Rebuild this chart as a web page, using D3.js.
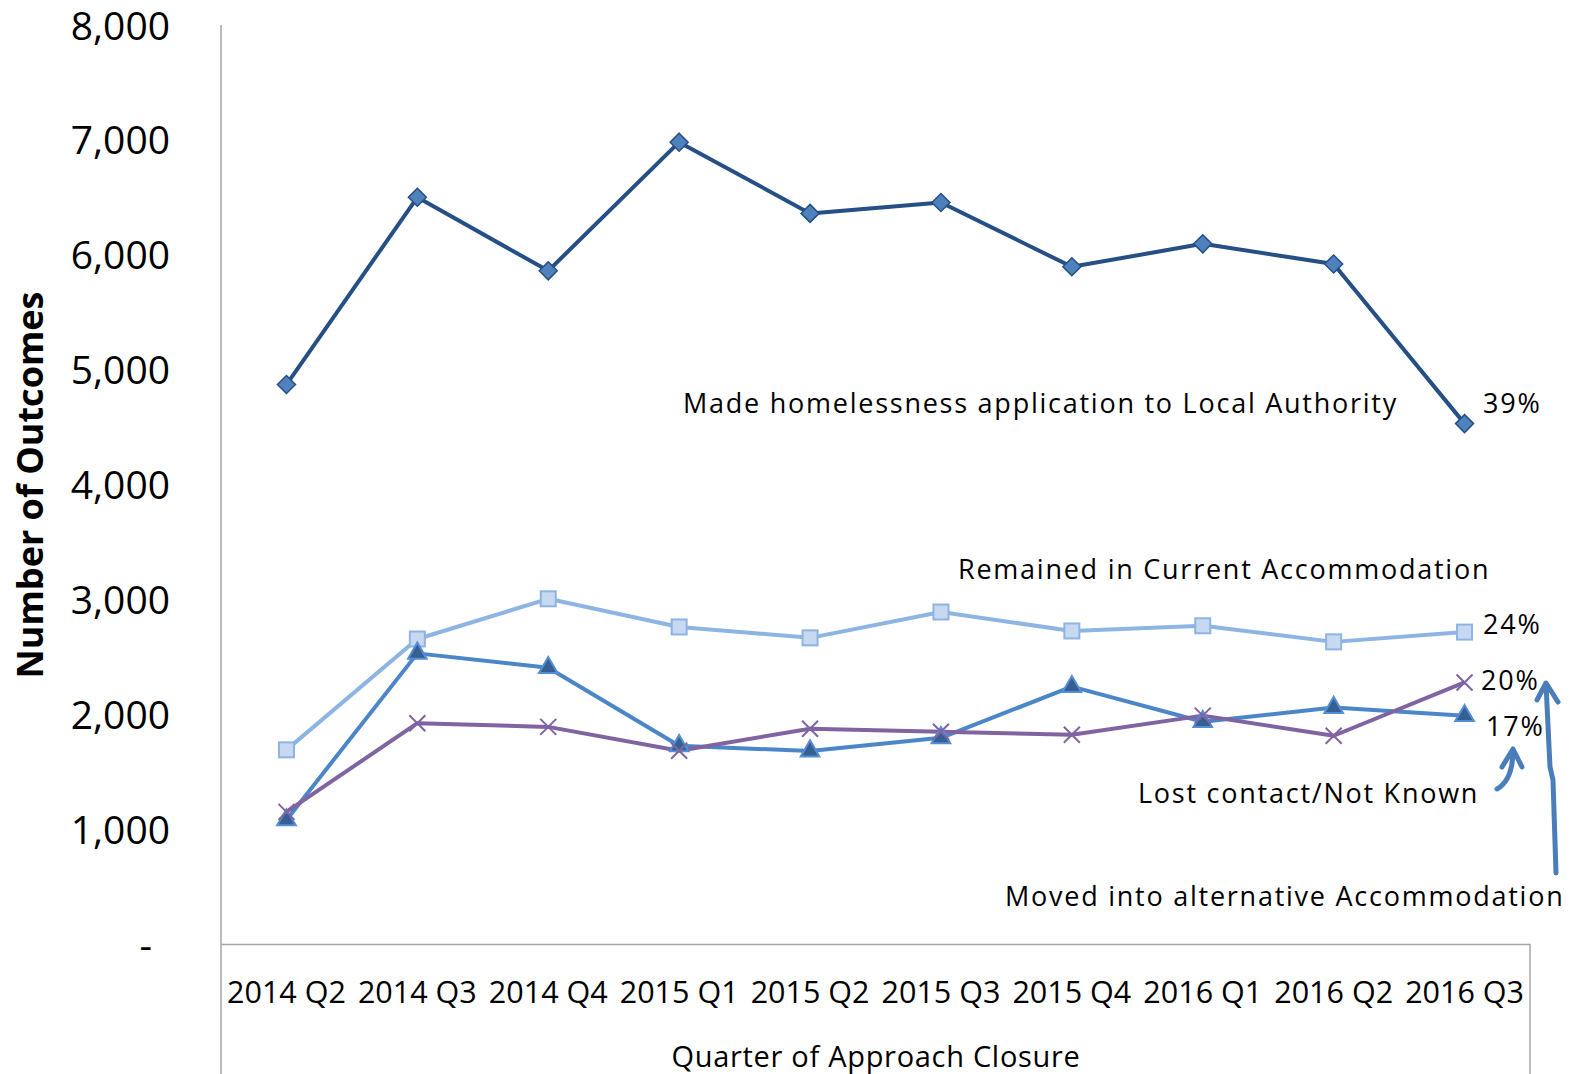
<!DOCTYPE html>
<html>
<head>
<meta charset="utf-8">
<script src="https://cdn.jsdelivr.net/npm/d3@7"></script>
<style>
  body { margin: 0; background: #fff; }
  text { font-family: "Open Sans", sans-serif; fill: #000; }
</style>
</head>
<body>
<div id="chart"></div>
<script>
// Data
const quarters = ["2014 Q2", "2014 Q3", "2014 Q4", "2015 Q1", "2015 Q2",
                  "2015 Q3", "2015 Q4", "2016 Q1", "2016 Q2", "2016 Q3"];
const homelessApp = [4870, 6500, 5860, 6980, 6360, 6455, 5895, 6095, 5920, 4530];
const remained    = [1690, 2655, 3005, 2760, 2665, 2890, 2725, 2770, 2630, 2715];
const lostContact = [1080, 2530, 2405, 1725, 1680, 1795, 2240, 1935, 2058, 1988];
const movedAlt    = [1150, 1922, 1890, 1682, 1874, 1848, 1822, 1988, 1813, 2277];
const yTicks = [0, 1000, 2000, 3000, 4000, 5000, 6000, 7000, 8000];

const W = 1579, H = 1074;
const svg = d3.select("#chart").append("svg")
  .attr("width", W)
  .attr("height", H);

// Scales
const x = d3.scaleBand().domain(quarters).range([221, 1530]);
const y = d3.scaleLinear().domain([0, 8000]).range([944, 25]);
const cx = (d, i) => x(quarters[i]) + x.bandwidth() / 2;

// Frame lines
const frame = "#a6a6a6";
svg.append("line").attr("x1", 221).attr("x2", 221).attr("y1", 25).attr("y2", H)
  .attr("stroke", frame).attr("stroke-width", 1.5);
svg.append("line").attr("x1", 1530).attr("x2", 1530).attr("y1", 944).attr("y2", H)
  .attr("stroke", frame).attr("stroke-width", 1.5);

// Y axis
const yAxis = svg.append("g")
  .attr("transform", "translate(221,0)")
  .call(d3.axisLeft(y).tickValues(yTicks).tickSize(0).tickPadding(51)
    .tickFormat(d => d === 0 ? "-" : d3.format(",")(d)));
yAxis.select(".domain").remove();
yAxis.selectAll("text")
  .style("font-family", "Open Sans, sans-serif")
  .style("font-size", "39px")
  .attr("dy", "0.36em")
  .attr("dx", d => d === 0 ? -18 : 0);

// X axis
const xAxis = svg.append("g")
  .attr("transform", "translate(0,944)")
  .call(d3.axisBottom(x).tickSize(0));
xAxis.select(".domain").attr("stroke", frame).attr("stroke-width", 1.5);
xAxis.selectAll("text")
  .style("font-family", "Open Sans, sans-serif")
  .style("font-size", "30.5px")
  .attr("y", 59)
  .attr("dy", 0);

// Axis titles
svg.append("text")
  .attr("transform", "translate(43,485) rotate(-90)")
  .attr("text-anchor", "middle")
  .style("font-size", "36px")
  .style("font-weight", "bold")
  .text("Number of Outcomes");

svg.append("text")
  .attr("x", 876)
  .attr("y", 1067)
  .attr("text-anchor", "middle")
  .style("font-size", "29px")
  .style("letter-spacing", "0.7px")
  .text("Quarter of Approach Closure");

// Lines
const line = d3.line().x(cx).y(d => y(d));

function drawSeries(values, color) {
  svg.append("path")
    .datum(values)
    .attr("fill", "none")
    .attr("stroke", color)
    .attr("stroke-width", 4)
    .attr("stroke-linejoin", "round")
    .attr("d", line);
}

drawSeries(remained, "#8db4e2");
drawSeries(lostContact, "#4a86c8");
drawSeries(movedAlt, "#8064a2");
drawSeries(homelessApp, "#254f85");

// Markers
svg.selectAll(".sq")
  .data(remained).enter().append("rect")
  .attr("class", "sq")
  .attr("x", (d, i) => cx(d, i) - 7.5)
  .attr("y", d => y(d) - 7.5)
  .attr("width", 15).attr("height", 15)
  .attr("fill", "#c6d9f1")
  .attr("stroke", "#8db4e2")
  .attr("stroke-width", 2);

svg.selectAll(".tri")
  .data(lostContact).enter().append("path")
  .attr("class", "tri")
  .attr("d", d3.symbol().type(d3.symbolTriangle).size(150))
  .attr("transform", (d, i) => "translate(" + cx(d, i) + "," + y(d) + ")")
  .attr("fill", "#376092")
  .attr("stroke", "#558ed5")
  .attr("stroke-width", 2);

svg.selectAll(".cross")
  .data(movedAlt).enter().append("path")
  .attr("class", "cross")
  .attr("d", "M-8,-8L8,8M-8,8L8,-8")
  .attr("transform", (d, i) => "translate(" + cx(d, i) + "," + y(d) + ")")
  .attr("stroke", "#8064a2")
  .attr("stroke-width", 2);

svg.selectAll(".dia")
  .data(homelessApp).enter().append("path")
  .attr("class", "dia")
  .attr("d", "M0,-9L9,0L0,9L-9,0Z")
  .attr("transform", (d, i) => "translate(" + cx(d, i) + "," + y(d) + ")")
  .attr("fill", "#4f81bd")
  .attr("stroke", "#254f85")
  .attr("stroke-width", 1.5);

// Annotations
const labels = [
  { text: "Made homelessness application to Local Authority", x: 683, y: 413 },
  { text: "39%", x: 1483, y: 413 },
  { text: "Remained in Current Accommodation", x: 958, y: 579 },
  { text: "24%", x: 1483, y: 634 },
  { text: "20%", x: 1481, y: 690 },
  { text: "17%", x: 1486, y: 736 },
  { text: "Lost contact/Not Known", x: 1138, y: 803 },
  { text: "Moved into alternative Accommodation", x: 1005, y: 906 }
];

svg.selectAll(".lbl")
  .data(labels).enter().append("text")
  .attr("class", "lbl")
  .attr("x", d => d.x)
  .attr("y", d => d.y)
  .style("font-size", "27px")
  .style("letter-spacing", "1.75px")
  .text(d => d.text);

// Hand-drawn arrows
const arrowColor = "#4a7ebb";
svg.append("path")
  .attr("d", "M1497,789 Q1513,780 1513,750 M1502,767 L1513,749 L1522,767")
  .attr("fill", "none")
  .attr("stroke", arrowColor)
  .attr("stroke-width", 5)
  .attr("stroke-linecap", "round")
  .attr("stroke-linejoin", "round");

svg.append("path")
  .attr("d", "M1556,873 L1553,780 L1550,767 L1546,684 M1537,700 L1546,683 L1558,702")
  .attr("fill", "none")
  .attr("stroke", arrowColor)
  .attr("stroke-width", 5)
  .attr("stroke-linecap", "round")
  .attr("stroke-linejoin", "round");
</script>
</body>
</html>
